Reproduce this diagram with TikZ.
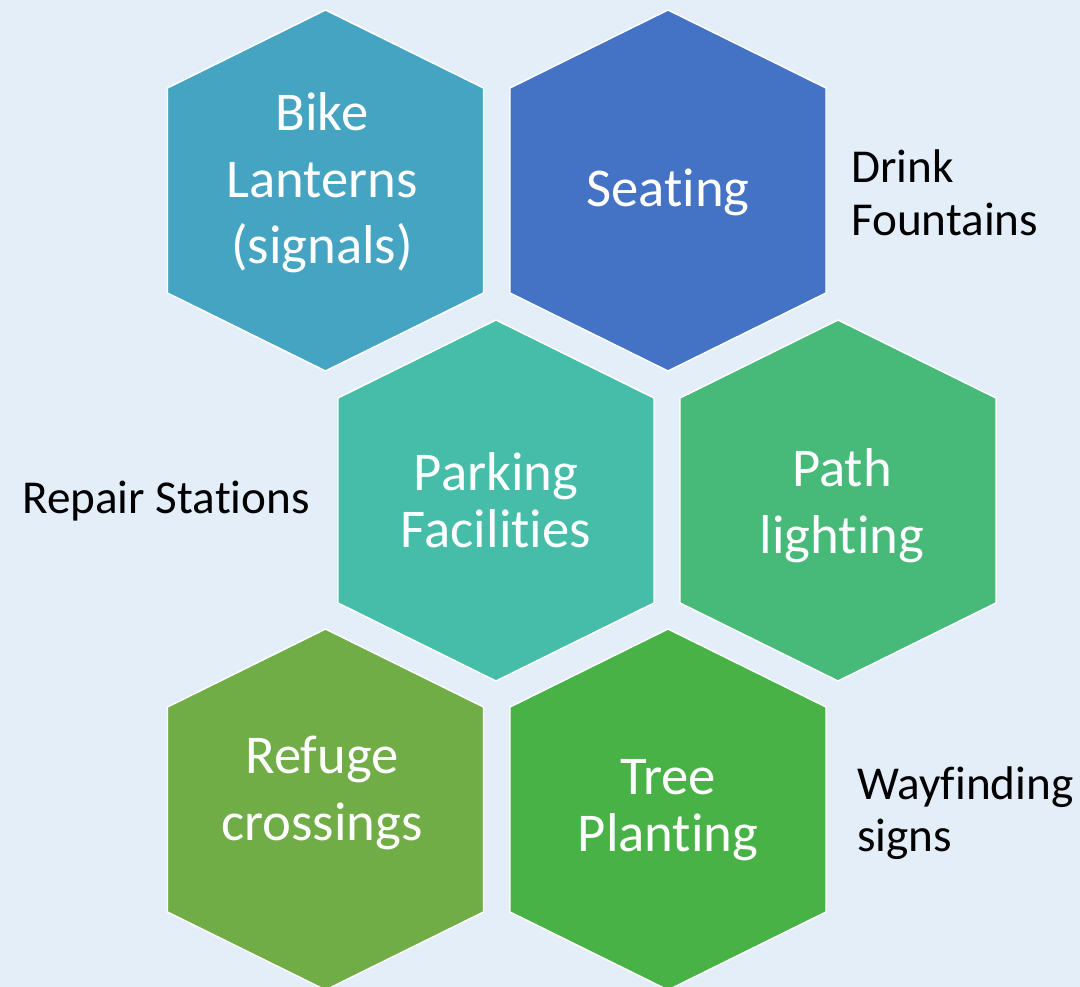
\documentclass[tikz,border=0pt]{standalone}
\usepackage{fontspec}
\setmainfont{Carlito}[Ligatures=NoCommon]
\definecolor{bgblue}{HTML}{E4EEF8}
\definecolor{hexA}{HTML}{46A4C3}
\definecolor{hexB}{HTML}{4472C4}
\definecolor{hexC}{HTML}{46BDA8}
\definecolor{hexD}{HTML}{47BA7A}
\definecolor{hexE}{HTML}{71AD47}
\definecolor{hexF}{HTML}{48B247}
\begin{document}
\begin{tikzpicture}[x=0.75pt,y=-0.75pt]
\tikzset{
  hexcell/.style={draw=white, line width=1.1pt, line join=miter},
  hextext/.style={text=white, align=center, inner sep=0pt,
    font=\fontsize{41}{50}\selectfont},
  tighttext/.style={hextext, font=\fontsize{41}{42.5}\selectfont},
  sidetext/.style={text=black, align=left, anchor=west, inner sep=0pt,
    font=\fontsize{35.4}{39.5}\selectfont}
}
\fill [bgblue] (0,0) rectangle (1080,987);
\useasboundingbox (0,0) rectangle (1080,987);
% top row
\filldraw [hexcell, fill=hexA] (325.5,10) -- ++(158,78) -- ++(0,205) -- ++(-158,78) -- ++(-158,-78) -- ++(0,-205) -- cycle;
\filldraw [hexcell, fill=hexB] (668,10) -- ++(158,78) -- ++(0,205) -- ++(-158,78) -- ++(-158,-78) -- ++(0,-205) -- cycle;
% middle row
\filldraw [hexcell, fill=hexC] (496,320) -- ++(158,78) -- ++(0,205) -- ++(-158,78) -- ++(-158,-78) -- ++(0,-205) -- cycle;
\filldraw [hexcell, fill=hexD] (838,320) -- ++(158,78) -- ++(0,205) -- ++(-158,78) -- ++(-158,-78) -- ++(0,-205) -- cycle;
% bottom row
\filldraw [hexcell, fill=hexE] (325.5,629) -- ++(158,78) -- ++(0,205) -- ++(-158,78) -- ++(-158,-78) -- ++(0,-205) -- cycle;
\filldraw [hexcell, fill=hexF] (668,629) -- ++(158,78) -- ++(0,205) -- ++(-158,78) -- ++(-158,-78) -- ++(0,-205) -- cycle;
% labels
\node [hextext] (bike) at (322,183) {Bike\\Lanterns\\(signals)};
\node [hextext] (seating) at (668,192) {Seating};
\node [tighttext] (parking) at (496,500) {Parking\\Facilities};
\node [hextext] (path) at (842,506) {Path\\lighting};
\node [hextext] (refuge) at (322,793) {Refuge\\crossings};
\node [tighttext] (tree) at (668,810) {Tree\\Planting};
\node [sidetext] (drink) at (851,193) {Drink\\Fountains};
\node [sidetext] (repair) at (22,501) {Repair Stations};
\node [sidetext] (wayfinding) at (857,813) {Wayfinding\\signs};
\end{tikzpicture}
\end{document}
